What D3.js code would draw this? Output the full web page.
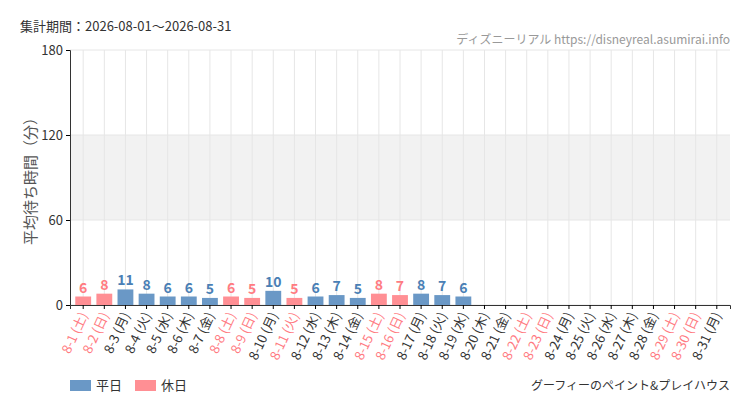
<!DOCTYPE html><html><head><meta charset="utf-8"><script src="https://cdn.jsdelivr.net/npm/d3@7"></script>
<style>body{margin:0;background:#fff}text{font-family:"Noto Sans CJK JP",sans-serif}</style></head><body><svg id="c" width="750" height="410"></svg><script>
const dates=d3.range(1,32).map(d=>"8-"+d);
const weekdays=["土","日","月","火","水","木","金"];
const holidays=[1,2,8,9,11,15,16,22,23,29,30];
const values=[6,8,11,8,6,6,5,6,5,10,5,6,7,5,8,7,8,7,6];
const yTicks=[0,60,120,180];
const svg=d3.select("#c");
const m={l:70,r:730,t:50,b:305};
const x=d3.scaleBand().domain(dates).range([m.l,m.r]).padding(0.25);
const y=d3.scaleLinear().domain([0,180]).range([m.b,m.t]);
const blue="#6a98c6",pink="#ff8f94",pinkT="#ff7b82",blueT="#4a7fb5";
svg.append("rect").attr("x",m.l).attr("width",m.r-m.l).attr("y",y(120)).attr("height",y(60)-y(120)).attr("fill","#f2f2f2");
yTicks.forEach(t=>svg.append("line").attr("x1",m.l).attr("x2",m.r).attr("y1",y(t)).attr("y2",y(t)).attr("stroke","#e6e6e6"));
dates.forEach(d=>svg.append("line").attr("x1",x(d)+x.bandwidth()/2).attr("x2",x(d)+x.bandwidth()/2).attr("y1",m.t).attr("y2",m.b).attr("stroke","#e6e6e6"));
const isH=i=>holidays.includes(i+1);
values.forEach((v,i)=>{const d=dates[i];
svg.append("rect").attr("x",x(d)).attr("width",x.bandwidth()).attr("y",y(v)).attr("height",y(0)-y(v)).attr("fill",isH(i)?pink:blue);
svg.append("text").attr("x",x(d)+x.bandwidth()/2).attr("y",y(v)-4).attr("text-anchor","middle").attr("font-size",14).attr("font-weight","bold").attr("font-family","'Liberation Sans Narrow','DejaVu Sans Condensed',sans-serif").attr("fill",isH(i)?pinkT:blueT).text(v);});
const ya=svg.append("g").attr("transform",`translate(${m.l},0)`).call(d3.axisLeft(y).tickValues(yTicks).tickSize(4));
ya.select(".domain").attr("stroke","#333");ya.selectAll("text").attr("font-size",13).attr("fill","#333").attr("font-family","Roboto");
const xa=svg.append("g").attr("transform",`translate(0,${m.b})`).call(d3.axisBottom(x).tickSize(4).tickFormat(""));
xa.select(".domain").attr("stroke","#333");
dates.forEach((d,i)=>svg.append("text").attr("transform",`translate(${x(d)+x.bandwidth()/2+5},${m.b+10}) rotate(-65)`).attr("text-anchor","end").attr("font-size",13).attr("fill",isH(i)?pinkT:"#333").text(d+" ("+weekdays[i%7]+")"));
svg.append("text").attr("transform",`translate(36,${(m.t+m.b)/2}) rotate(-90)`).attr("text-anchor","middle").attr("font-size",15).attr("fill","#555").text("平均待ち時間（分）");
svg.append("text").attr("x",20).attr("y",31).attr("font-size",13).attr("fill","#333").text("集計期間：2026-08-01～2026-08-31");
svg.append("text").attr("x",730).attr("y",44).attr("text-anchor","end").attr("font-size",12).attr("fill","#999").attr("font-family","'Liberation Sans Narrow','DejaVu Sans Condensed',sans-serif").text("ディズニーリアル https://disneyreal.asumirai.info");
svg.append("rect").attr("x",70).attr("y",380).attr("width",21).attr("height",11).attr("fill",blue);
svg.append("text").attr("x",96).attr("y",390).attr("font-size",13).attr("fill","#333").text("平日");
svg.append("rect").attr("x",135).attr("y",380).attr("width",21).attr("height",11).attr("fill",pink);
svg.append("text").attr("x",161).attr("y",390).attr("font-size",13).attr("fill","#333").text("休日");
svg.append("text").attr("x",730).attr("y",390).attr("text-anchor","end").attr("font-size",12).attr("fill","#333").text("グーフィーのペイント&プレイハウス");
</script></body></html>
